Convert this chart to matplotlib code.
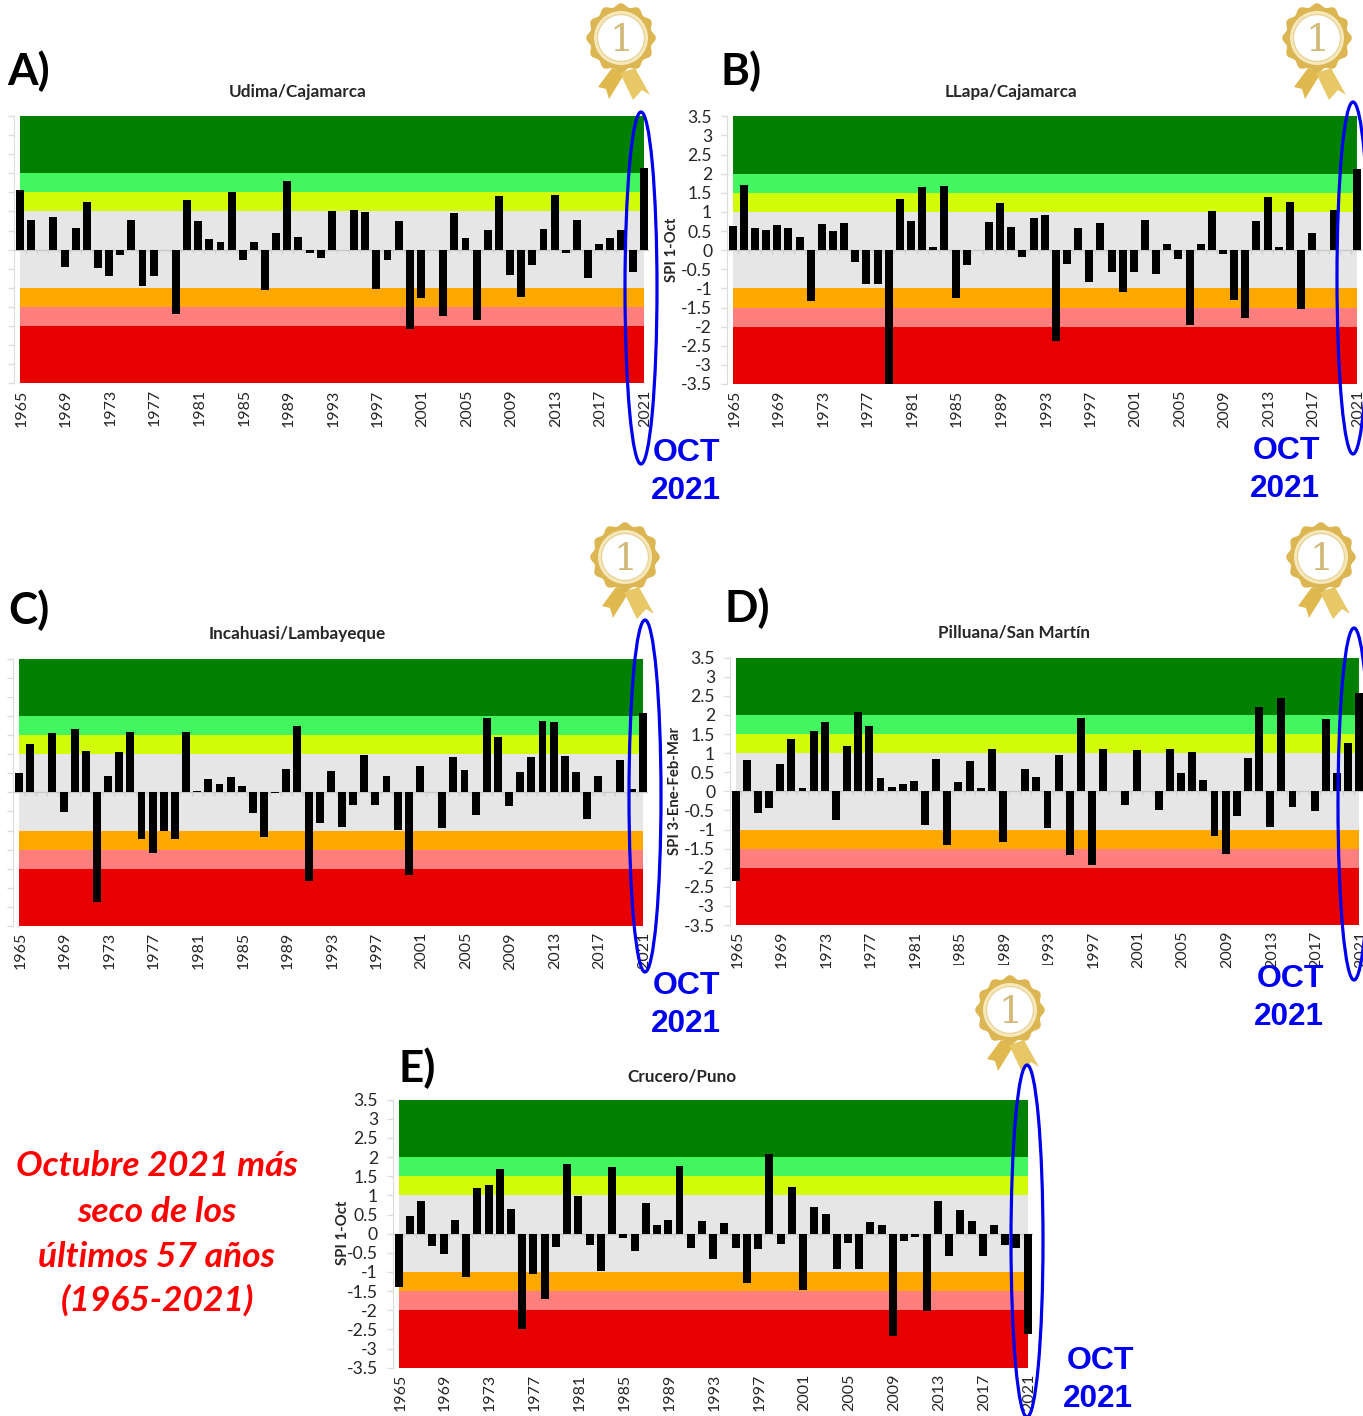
"""
SPI bar charts for five stations, October 2021 drought.
"""

import numpy as np
import matplotlib as mpl
mpl.use('Agg')
import matplotlib.pyplot as plt
from matplotlib.patches import Ellipse, Polygon, Circle, Rectangle
from matplotlib.transforms import ScaledTranslation

W, H = 1363, 1416

years = list(range(1965, 2022))
y_ticks = [3.5, 3, 2.5, 2, 1.5, 1, 0.5, 0, -0.5, -1, -1.5, -2, -2.5, -3, -3.5]
y_tick_labels = ['3.5', '3', '2.5', '2', '1.5', '1', '0.5', '0', '-0.5', '-1',
                 '-1.5', '-2', '-2.5', '-3', '-3.5']

band_edges = [3.5, 2, 1.5, 1, -1, -1.5, -2, -3.5]
band_colors = ['#008000', '#43F65F', '#D2FB08', '#E6E6E6', '#FFA800', '#FF7F7F', '#E60000']

spi_a = [1.55, 0.78, 0, 0.85, -0.45, 0.58, 1.26, -0.49, -0.69, -0.15, 0.78, -0.96,
         -0.69, 0, -1.68, 1.29, 0.74, 0.28, 0.2, 1.51, -0.28, 0.21, -1.05, 0.44,
         1.79, 0.33, -0.1, -0.23, 1.0, -0.02, 1.03, 0.99, -1.03, -0.28, 0.76, -2.09,
         -1.26, 0, -1.73, 0.96, 0.3, -1.84, 0.51, 1.4, -0.67, -1.23, -0.41, 0.54,
         1.42, -0.09, 0.78, -0.75, 0.14, 0.31, 0.51, -0.58, 2.14]
spi_b = [0.64, 1.70, 0.57, 0.53, 0.65, 0.58, 0.35, -1.34, 0.69, 0.51, 0.72, -0.31,
         -0.89, -0.89, -3.5, 1.34, 0.76, 1.66, 0.08, 1.67, -1.26, -0.40, 0, 0.74,
         1.24, 0.60, -0.17, 0.84, 0.92, -2.37, -0.35, 0.58, -0.84, 0.71, -0.56, -1.10,
         -0.56, 0.79, -0.62, 0.17, -0.22, -1.95, 0.17, 1.03, -0.10, -1.31, -1.77, 0.76,
         1.40, 0.09, 1.25, -1.53, 0.44, 0, 1.06, 0, 2.11]
spi_c = [0.51, 1.26, 0, 1.56, -0.51, 1.65, 1.09, -2.88, 0.43, 1.05, 1.58, -1.21,
         -1.59, -1.02, -1.21, 1.57, 0.04, 0.34, 0.22, 0.40, 0.16, -0.53, -1.17, -0.01,
         0.61, 1.75, -2.33, -0.80, 0.56, -0.92, -0.32, 0.98, -0.34, 0.43, -0.99, -2.16,
         0.69, 0, -0.94, 0.92, 0.59, -0.60, 1.94, 1.46, -0.37, 0.54, 0.92, 1.88,
         1.84, 0.94, 0.53, -0.71, 0.43, 0, 0.86, 0.10, 2.08]
spi_d = [-2.36, 0.82, -0.58, -0.44, 0.71, 1.38, 0.09, 1.58, 1.82, -0.76, 1.18, 2.07,
         1.70, 0.34, 0.11, 0.18, 0.27, -0.89, 0.86, -1.41, 0.24, 0.80, 0.10, 1.12,
         -1.33, 0.01, 0.59, 0.37, -0.97, 0.94, -1.67, 1.93, -1.94, 1.10, 0.01, -0.37,
         1.09, 0.01, -0.48, 1.11, 0.49, 1.02, 0.29, -1.17, -1.64, -0.65, 0.87, 2.22,
         -0.93, 2.45, -0.41, 0, -0.51, 1.90, 0.49, 1.26, 2.58]
spi_e = [-1.40, 0.45, 0.85, -0.32, -0.54, 0.37, -1.14, 1.20, 1.28, 1.68, 0.64, -2.49,
         -1.05, -1.71, -0.34, 1.83, 0.99, -0.30, -0.97, 1.73, -0.10, -0.44, 0.80, 0.22,
         0.35, 1.77, -0.37, 0.32, -0.66, 0.29, -0.38, -1.28, -0.40, 2.08, -0.28, 1.23,
         -1.46, 0.71, 0.51, -0.91, -0.24, -0.91, 0.30, 0.23, -2.68, -0.20, -0.08, -2.01,
         0.86, -0.58, 0.62, 0.32, -0.59, 0.24, -0.29, -0.37, -2.62]

# station, values, y label, first/last bar centre (px), top/bottom of the bands (px)
panels = [
    ('Udima/Cajamarca', spi_a, None, 20.0, 643.7, 116.0, 383.3, 298, 92),
    ('LLapa/Cajamarca', spi_b, 'SPI 1-Oct', 732.7, 1356.7, 116.3, 384.0, 1011, 92),
    ('Incahuasi/Lambayeque', spi_c, None, 19.0, 642.7, 658.7, 926.0, 297, 634),
    ('Pilluana/San Martín', spi_d, 'SPI 3-Ene-Feb-Mar', 735.7, 1359.3, 657.7, 925.0, 1014, 633),
    ('Crucero/Puno', spi_e, 'SPI 1-Oct', 398.7, 1027.7, 1099.7, 1367.7, 682, 1076),
]

panel_letters = [('A)', 7, 71), ('B)', 721, 71), ('C)', 8, 610), ('D)', 725, 608), ('E)', 399, 1068)]
medals = [(621, 38), (1317, 38), (625, 557), (1321, 557), (1010, 1010)]
ovals = [(641, 288), (1353, 278), (645, 796), (1354, 804), (1027, 1241)]
oct_labels = [(687, 453, 686, 491), (1287, 451, 1285, 489), (687, 986, 686, 1024),
              (1291, 979, 1289, 1017), (1100, 1361, 1098, 1399)]
red_lines = ['Octubre 2021 más', 'seco de los', 'últimos 57 años', '(1965-2021)']
red_y = [1166, 1212, 1257, 1300]

SANS = ['Lato', 'DejaVu Sans']


def px(size):
    """Font size in points for a size in pixels at dpi 100."""
    return size * 0.72


def draw_panel(fig, title, values, ylabel, x0, x1, top, bottom):
    """One SPI chart, placed by its pixel box."""
    step = (x1 - x0) / (len(years) - 1)
    left = x0 - step / 2
    right = x1 + step / 2
    ax = fig.add_axes([left / W, 1 - bottom / H, (right - left) / W, (bottom - top) / H])
    ax.patch.set_alpha(0)
    ax.set_xlim(years[0] - 0.5, years[-1] + 0.5)
    ax.set_ylim(-3.5, 3.5)

    for i, color in enumerate(band_colors):
        ax.fill_between([years[0], years[-1]], band_edges[i + 1], band_edges[i],
                        color=color, linewidth=0, zorder=1)

    # zero line with the little category marks
    ax.axhline(0, color='#c8c8c8', linewidth=1, zorder=2)
    ax.vlines(np.array(years[:-1]) + 0.5, -0.1, 0, color='#d0d0d0', linewidth=1, zorder=2)
    ax.bar(years, values, width=0.71, color='black', linewidth=0, zorder=3)

    for name in ['top', 'right', 'bottom']:
        ax.spines[name].set_visible(False)
    ax.spines['left'].set_color('#dcdcdc')

    ax.set_xticks(years[::4])
    ax.set_xticklabels([str(y) for y in years[::4]], rotation=90, fontsize=px(16),
                       color='#262626', family=SANS)
    ax.tick_params(axis='x', length=0, pad=px(6))
    nudge = ScaledTranslation(1.5 / 100, 0, fig.dpi_scale_trans)
    for label in ax.get_xticklabels():
        label.set_transform(label.get_transform() + nudge)
    ax.set_yticks(y_ticks)
    if ylabel:
        ax.set_yticklabels(y_tick_labels, fontsize=px(17.5), color='#262626', family=SANS)
    else:
        ax.set_yticklabels([])
    ax.tick_params(axis='y', length=px(6), width=1, color='#dcdcdc', pad=px(9))
    return ax


def draw_medal(ov, cx, cy):
    """Gold first place rosette with ribbons."""
    left = np.array([(-9, 30), (4, 35), (-12, 61), (-15, 51), (-23, 49)], dtype=float)
    right = np.array([(14, 30), (29, 57), (21, 52), (12, 62), (-1, 35)], dtype=float)
    ov.add_patch(Polygon(left + (cx, cy), color='#dfb94e', lw=0, zorder=10))
    ov.add_patch(Polygon(right + (cx, cy), color='#e8c766', lw=0, zorder=10))
    theta = np.linspace(0, 2 * np.pi, 240)
    radius = 33 + 1.8 * np.cos(12 * theta)
    scallop = np.column_stack([cx + radius * np.cos(theta), cy + radius * np.sin(theta)])
    ov.add_patch(Polygon(scallop, color='#dcb653', lw=0, zorder=11))
    ov.add_patch(Circle((cx, cy), 27, color='#f6e8bb', lw=0, zorder=12))
    ov.add_patch(Circle((cx, cy), 23.5, facecolor='white', edgecolor='#e7d59c', lw=1, zorder=13))
    ov.text(cx, cy + 3, '1', fontsize=px(38), family='DejaVu Serif', color='#d2b877',
            ha='center', va='center', zorder=14)


def main():
    """Build the whole figure and save it."""
    mpl.rcParams['font.family'] = SANS
    fig = plt.figure(figsize=(W / 100, H / 100), dpi=100, facecolor='white')

    for title, values, ylabel, x0, x1, top, bottom, tx, ty in panels:
        draw_panel(fig, title, values, ylabel, x0, x1, top, bottom)

    # overlay in pixel coordinates for the annotations
    ov = fig.add_axes([0, 0, 1, 1])
    ov.set_xlim(0, W)
    ov.set_ylim(H, 0)
    ov.axis('off')
    ov.patch.set_alpha(0)

    for title, values, ylabel, x0, x1, top, bottom, tx, ty in panels:
        ov.text(tx, ty, title, fontsize=px(17.1), fontweight='bold', color='#262626',
                ha='center', va='center')

    ov.text(672, 250, 'SPI 1-Oct', fontsize=px(14.9), fontweight='bold', rotation=90,
            ha='center', va='center', color='#262626')
    ov.text(675, 791, 'SPI 3-Ene-Feb-Mar', fontsize=px(14.9), fontweight='bold', rotation=90,
            ha='center', va='center', color='#262626')
    ov.text(343, 1233, 'SPI 1-Oct', fontsize=px(14.9), fontweight='bold', rotation=90,
            ha='center', va='center', color='#262626')

    for label, x, y in panel_letters:
        ov.text(x, y, label, fontsize=px(44), fontweight='bold', color='black',
                ha='left', va='center')

    # pasted medal in panel E has a white box that eats some labels of panel D
    ov.add_patch(Rectangle((945, 965), 115, 105, facecolor='white', lw=0, zorder=5))
    for cx, cy in medals:
        draw_medal(ov, cx, cy)

    for cx, cy in ovals:
        ov.add_patch(Ellipse((cx, cy), 32, 352, fill=False, edgecolor='#0000F0',
                             linewidth=px(3.2), zorder=20))

    for x1, y1, x2, y2 in oct_labels:
        ov.text(x1, y1, 'OCT', fontsize=px(32), fontweight='bold', color='#0000F0',
                family='Liberation Sans', ha='center', va='center', zorder=21)
        ov.text(x2, y2, '2021', fontsize=px(31.5), fontweight='bold', color='#0000F0',
                family='Liberation Sans', ha='center', va='center', zorder=21)

    for line, y in zip(red_lines, red_y):
        ov.text(157, y, line, fontsize=px(35.4), fontweight='bold', style='italic',
                color='#FF0000', ha='center', va='center')

    fig.savefig('out.png', dpi=100)
    plt.close(fig)


if __name__ == '__main__':
    main()
